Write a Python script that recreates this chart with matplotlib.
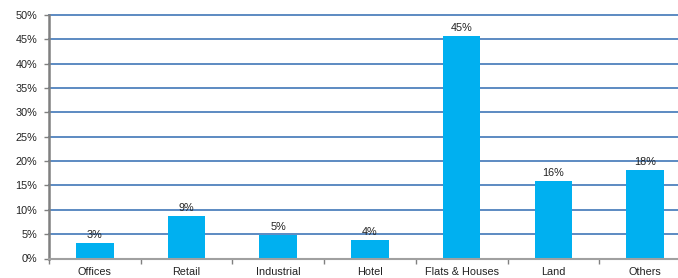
import matplotlib
matplotlib.use("Agg")
import matplotlib.pyplot as plt
from matplotlib.ticker import FuncFormatter

categories = ["Offices", "Retail", "Industrial", "Hotel", "Flats & Houses", "Land", "Others"]
values = [3.2, 8.8, 4.9, 3.8, 45.7, 15.9, 18.2]
labels = ["3%", "9%", "5%", "4%", "45%", "16%", "18%"]
yticks = [0, 5, 10, 15, 20, 25, 30, 35, 40, 45, 50]

plt.rcParams['font.family'] = ['Liberation Sans', 'DejaVu Sans']

fig = plt.figure(figsize=(6.78, 2.78), dpi=100)
# axis extends beyond the right edge (cropped in the reference)
left = 49 / 678
bottom = (278 - 258.5) / 278
width = (7 * 91.7) / 678
height = 243.5 / 278
ax = fig.add_axes([left, bottom, width, height])

x = list(range(len(categories)))
ax.bar(x, values, width=0.41, color="#00B0F0", zorder=3)
for xi, v, lab in zip(x, values, labels):
    ax.text(xi, v + 0.6, lab, ha="center", va="bottom", fontsize=7.8, color="#222222", zorder=4)

ax.set_xlim(-0.5, len(categories) - 0.5)
ax.set_ylim(0, 50)
ax.set_yticks(yticks)
ax.yaxis.set_major_formatter(FuncFormatter(lambda v, p: f"{int(v)}%"))
ax.set_xticks(x)
ax.set_xticklabels(categories)
ax.set_xticks([i + 0.5 for i in range(-1, len(categories))], minor=True)
ax.tick_params(axis="x", which="major", length=0, labelsize=7.8, pad=6, colors="#222222")
ax.tick_params(axis="x", which="minor", length=3.5, width=1, color="#808080", direction="out")
ax.tick_params(axis="y", length=3.5, width=1, color="#808080", labelsize=7.8, labelcolor="#222222", pad=5)

ax.grid(axis="y", color="#4F81BD", linewidth=1.3, zorder=1)
for gl in ax.get_ygridlines():
    gl.set_clip_on(False)
ax.set_axisbelow(True)
for s in ["top", "right"]:
    ax.spines[s].set_visible(False)
ax.spines["left"].set_color("#808080")
ax.spines["left"].set_linewidth(1.8)
ax.spines["left"].set_zorder(5)
ax.spines["bottom"].set_color("#A0A0A0")
ax.spines["bottom"].set_linewidth(1.5)
ax.spines["bottom"].set_zorder(5)

fig.savefig("out.png", dpi=100)
